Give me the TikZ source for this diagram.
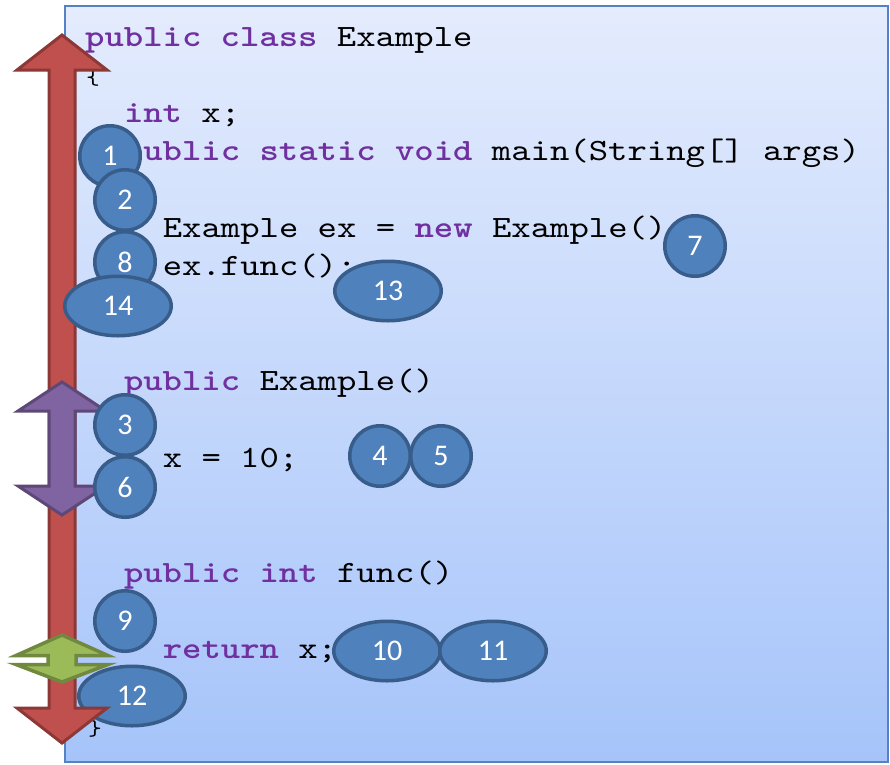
\documentclass[tikz,border=0pt]{standalone}
\usepackage{fontspec}
\setmainfont{Carlito}
% typewriter face for the source text, widened to a Courier-like pitch
\newfontfamily\codefam{lmmono10-regular}[Extension=.otf, BoldFont=lmmonolt10-bold, FakeStretch=1.19]
\usetikzlibrary{shapes.geometric}

\definecolor{boxtop}{RGB}{228,236,253}
\definecolor{boxbot}{RGB}{166,196,250}
\definecolor{boxedge}{RGB}{84,130,196}
\definecolor{kwcol}{RGB}{112,48,160}
\definecolor{numfill}{RGB}{79,129,189}
\definecolor{numedge}{RGB}{56,93,138}
\definecolor{redfill}{RGB}{192,80,77}
\definecolor{rededge}{RGB}{140,56,54}
\definecolor{purfill}{RGB}{128,100,162}
\definecolor{puredge}{RGB}{94,72,120}
\definecolor{grnfill}{RGB}{155,187,89}
\definecolor{grnedge}{RGB}{113,137,63}

\newcommand\kw[1]{\textcolor{kwcol}{\bfseries #1}}
\newcommand\codefont{\codefam\fontsize{31}{38}\selectfont}
\newcommand\bracefont{\codefam\fontsize{22}{24}\selectfont}
\newcommand\numfont{\fontsize{30}{32}\selectfont}

\tikzset{
  codeline/.style={anchor=base west, inner sep=0pt, font=\codefont},
  braceline/.style={anchor=base west, inner sep=0pt, font=\bracefont},
  stepnum/.style={circle, draw=numedge, fill=numfill, line width=3.5pt,
    minimum size=60.5pt, inner sep=0pt, text=white, font=\numfont},
  stepwide/.style={stepnum, ellipse, minimum width=106.5pt, minimum height=59.5pt},
  bigarrow/.style={line width=3pt, line join=miter},
}

\begin{document}
\begin{tikzpicture}[x=1pt,y=-1pt]
\useasboundingbox (0,0) rectangle (890,764);

% code panel
\shade[top color=boxtop, bottom color=boxbot, draw=boxedge, line width=2pt]
  (65,6) rectangle (888,762);

% source lines
\node[codeline]  (l1)  at (85,46)      {\kw{public class} Example};
\node[braceline] (l2)  at (86,84.3)    {\{};
\node[codeline]  (l3)  at (123.8,122.6) {\kw{int} x;};
\node[codeline]  (l4)  at (123.8,160.9) {\kw{public static void} main(String[] args)};
\node[codeline]  (l6)  at (162.6,237.5) {Example ex = \kw{new} Example()};
\node[codeline]  (l7)  at (162.6,275.8) {ex.func();};
\node[codeline]  (l10) at (123.8,390.7) {\kw{public} Example()};
\node[codeline]  (l12) at (162.6,467.3) {x = 10;};
\node[codeline]  (l15) at (123.8,582.2) {\kw{public int} func()};
\node[codeline]  (l17) at (162.6,658.8) {\kw{return} x;};
\node[braceline] (l19) at (88,735)     {\}};

% step marker lying under the arrows
\node[stepwide] (s12) at (132,696) {12};

% red double arrow spanning the whole class
\draw[bigarrow, fill=redfill, draw=rededge]
  (62,35) -- (107,70) -- (75,70) -- (75,708) -- (107,708) -- (62,743)
  -- (17,708) -- (49,708) -- (49,70) -- (17,70) -- cycle;

% purple double arrow beside the constructor
\draw[bigarrow, fill=purfill, draw=puredge]
  (62,382) -- (106,411) -- (75,411) -- (75,486) -- (106,486) -- (62,515)
  -- (18,486) -- (49,486) -- (49,411) -- (18,411) -- cycle;

% flat green double arrow beside the return
\draw[line width=3.5pt, line join=miter, fill=grnfill, draw=grnedge]
  (62,635) -- (108,655.5) -- (76,655.5) -- (76,664.5) -- (108,664.5) -- (62,682)
  -- (16,664.5) -- (48,664.5) -- (48,655.5) -- (16,655.5) -- cycle;

% step markers
\node[stepnum]  (s1)  at (110,156) {1};
\node[stepnum]  (s2)  at (125,200) {2};
\node[stepnum]  (s3)  at (125,425) {3};
\node[stepnum]  (s4)  at (380,456) {4};
\node[stepnum]  (s5)  at (441,456) {5};
\node[stepnum]  (s6)  at (125,487) {6};
\node[stepnum]  (s7)  at (695,246) {7};
\node[stepnum]  (s8)  at (125,262) {8};
\node[stepnum]  (s9)  at (125,621) {9};
\node[stepwide] (s10) at (387,651) {10};
\node[stepwide] (s11) at (493,651) {11};
\node[stepwide] (s13) at (388,291) {13};
\node[stepwide] (s14) at (118,306) {14};
\end{tikzpicture}
\end{document}
